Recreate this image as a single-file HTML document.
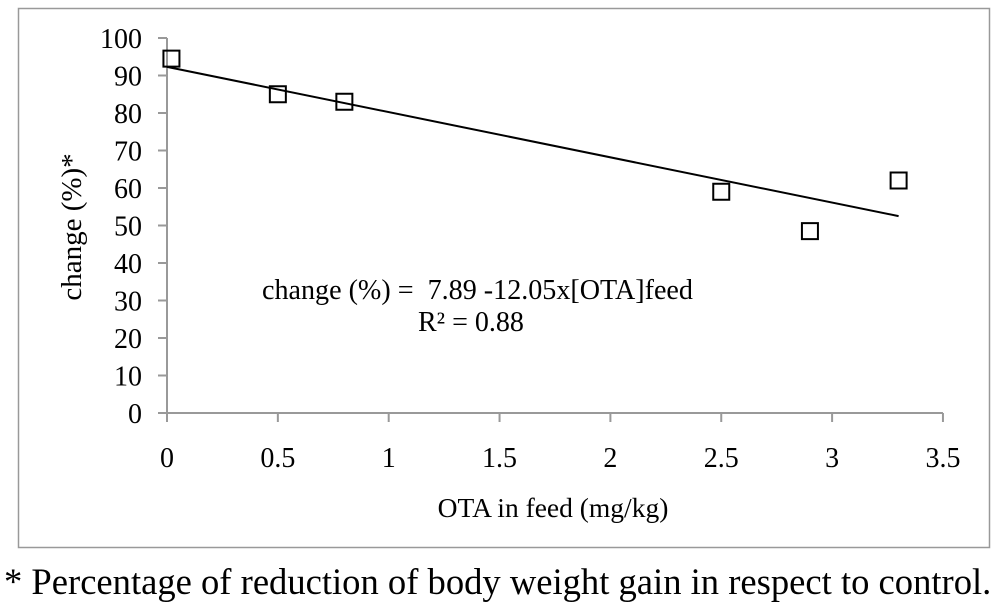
<!DOCTYPE html>
<html><head><meta charset="utf-8"><style>
body{margin:0;background:#fff;}
svg text{font-family:"Liberation Serif",serif;fill:#000;}
</style></head><body>
<svg width="1000" height="610" id="c">
<rect x="18.5" y="8.5" width="971" height="539" fill="#fff" stroke="#999" stroke-width="1.5"/>
<g id="axes"></g>
<g id="marks"></g>
<text x="262" y="299" font-size="28.1" xml:space="preserve">change (%) =  7.89 -12.05x[OTA]feed</text>
<text x="418" y="331" font-size="28">R² = 0.88</text>
<text x="553" y="517" font-size="27.5" text-anchor="middle">OTA in feed (mg/kg)</text>
<text transform="translate(81,227) rotate(-90)" font-size="29" text-anchor="middle">change (%)*</text>
<text x="4" y="594" font-size="36.6">* Percentage of reduction of body weight gain in respect to control.</text>
</svg>
<script>
const xTicks=[0,0.5,1,1.5,2,2.5,3,3.5];
const yTicks=[0,10,20,30,40,50,60,70,80,90,100];
const xVals=[0.02,0.5,0.8,2.5,2.9,3.3];
const yVals=[94.5,85,83,59,48.5,62];
const trendX=[0,3.3];
const trendY=[92.3,52.5];
const NS="http://www.w3.org/2000/svg";
const sx=v=>167+v*221.7, sy=v=>413-v*3.75;
function mk(t,a,p){const e=document.createElementNS(NS,t);for(const k in a)e.setAttribute(k,a[k]);p.appendChild(e);return e;}
const ax=document.getElementById('axes'), mg=document.getElementById('marks');
let l=mk('line',{x1:167,y1:sy(100),x2:167,y2:413,stroke:'#999','stroke-width':2},ax);


l=mk('line',{x1:158,y1:413,x2:sx(3.5),y2:413,stroke:'#999','stroke-width':2},ax);


yTicks.forEach(v=>{
 const t=mk('line',{x1:158,y1:sy(v),x2:167,y2:sy(v),stroke:'#999','stroke-width':2},ax);
 
 
 const tx=mk('text',{x:142,y:sy(v)+10,'font-size':28,'text-anchor':'end'},ax);tx.textContent=v;
 
 
});
xTicks.forEach(v=>{
 const t=mk('line',{x1:sx(v),y1:413,x2:sx(v),y2:422,stroke:'#999','stroke-width':2},ax);
 
 
 const tx=mk('text',{x:sx(v),y:467,'font-size':28,'text-anchor':'middle'},ax);tx.textContent=v;
 
 
});
const tl=mk('line',{x1:sx(trendX[0]),y1:sy(trendY[0]),x2:sx(trendX[1]),y2:sy(trendY[1]),stroke:'#000','stroke-width':2},mg);


xVals.forEach((v,i)=>{
 const r=mk('rect',{x:sx(v)-8,y:sy(yVals[i])-8,width:16,height:16,fill:'none',stroke:'#000','stroke-width':2},mg);
 
 
});
</script>
</body></html>
